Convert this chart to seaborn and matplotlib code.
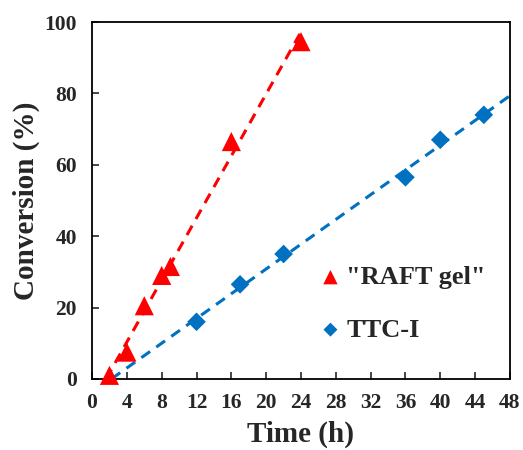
import numpy as np
import pandas as pd
import seaborn as sns
import matplotlib.pyplot as plt

# data
raft_time = [2, 4, 6, 8, 9, 16, 24]
raft_conv = [1, 7.5, 20.5, 29, 31.5, 66.5, 94.5]
ttc_time = [12, 17, 22, 36, 40, 45]
ttc_conv = [16, 26.5, 35, 56.5, 67, 74]

RED = "#ff0000"
BLUE = "#0070c0"

sns.set_theme(style="white")
plt.rcParams["font.family"] = ["Liberation Serif", "DejaVu Serif"]
plt.rcParams["font.weight"] = "bold"

fig, ax = plt.subplots(figsize=(5.23, 4.5), dpi=100)
fig.subplots_adjust(left=0.176, right=0.975, bottom=0.158, top=0.951)

# linear fits (dashed)
for t, c, col, x_end in [(raft_time, raft_conv, RED, 24.2), (ttc_time, ttc_conv, BLUE, 48)]:
    m, b = np.polyfit(t, c, 1)
    xs = np.array([-b / m, x_end])
    sns.lineplot(x=xs, y=m * xs + b, ax=ax, color=col, lw=2.2,
                 linestyle=(0, (3.5, 2.5)), zorder=2)

sns.scatterplot(x=raft_time, y=raft_conv, ax=ax, marker="^", s=190, color=RED,
                edgecolor="none", label='"RAFT gel"', zorder=3, clip_on=False)
sns.scatterplot(x=ttc_time, y=ttc_conv, ax=ax, marker="D", s=90, color=BLUE,
                edgecolor="none", label="TTC-I", zorder=3, clip_on=False)

ax.set_xlim(0, 48)
ax.set_ylim(0, 100)
ax.set_xticks(np.arange(0, 49, 4))
ax.set_yticks(np.arange(0, 101, 20))
ax.set_xlabel("Time (h)", fontsize=21, fontweight="bold", labelpad=6)
ax.set_ylabel("Conversion (%)", fontsize=21, fontweight="bold", labelpad=3)

ax.tick_params(axis="x", direction="in", length=5, width=1.2, labelsize=15.5, pad=10, bottom=True)
ax.tick_params(axis="y", direction="in", length=5, width=1.2, labelsize=15.5, pad=11, left=True)
for lab in ax.get_xticklabels() + ax.get_yticklabels():
    lab.set_fontweight("bold")
for sp in ax.spines.values():
    sp.set_color("black")
    sp.set_linewidth(1.3)

leg = ax.legend(loc="lower left", bbox_to_anchor=(0.52, 0.075), frameon=False,
                fontsize=19, markerscale=0.75, handletextpad=0.2,
                labelspacing=1.1, handlelength=0.8, borderaxespad=0)
for txt in leg.get_texts():
    txt.set_fontweight("bold")

fig.savefig("out.png", dpi=100)
